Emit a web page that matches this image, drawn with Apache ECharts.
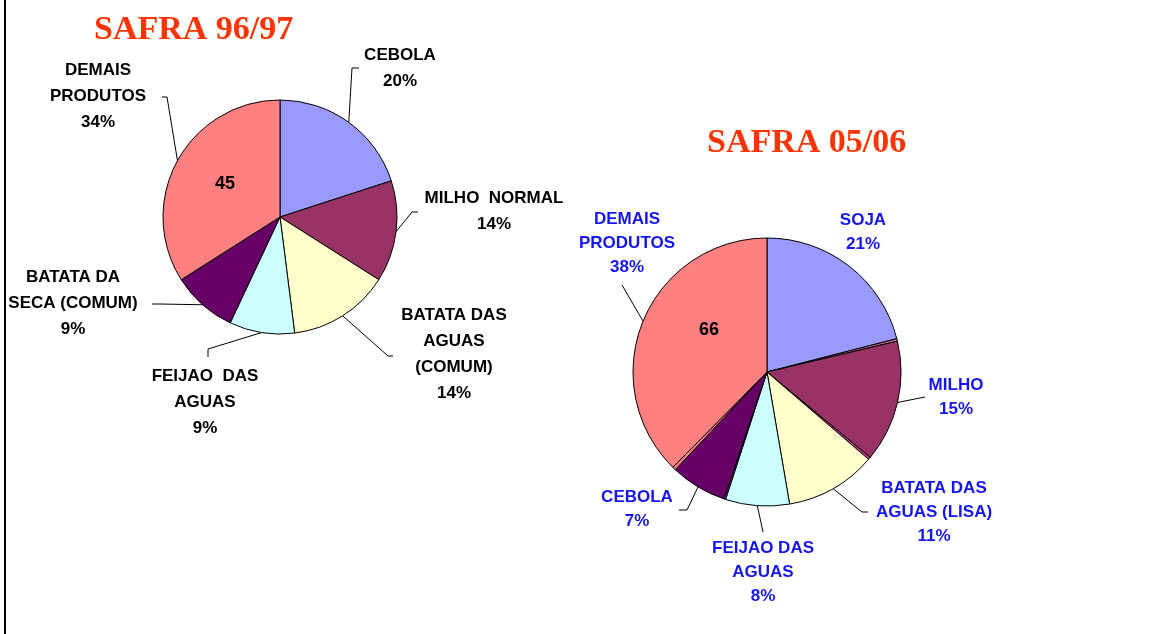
<!DOCTYPE html>
<html>
<head>
<meta charset="utf-8">
<script src="https://cdn.jsdelivr.net/npm/echarts@6/dist/echarts.min.js"></script>
<style>
  html, body { margin: 0; padding: 0; background: #fff; }
  #wrap { position: relative; width: 1176px; height: 634px; }
  #chart { width: 1176px; height: 634px; }
  #edge { position: absolute; left: 4px; top: 0; width: 2px; height: 634px; background: #000; }
</style>
</head>
<body>
<div id="wrap">
  <div id="chart"></div>
  <div id="edge"></div>
</div>
<script>
// SAFRA 96/97
const leftNames = ['CEBOLA', 'MILHO  NORMAL', 'BATATA DAS\nAGUAS\n(COMUM)', 'FEIJAO  DAS\nAGUAS', 'BATATA DA\nSECA (COMUM)', 'DEMAIS\nPRODUTOS'];
const leftValues = [20, 14, 14, 9, 9, 34];
const leftColors = ['#9999FF', '#993366', '#FFFFCC', '#CCFFFF', '#660066', '#FF8080'];

// SAFRA 05/06 (empty names = thin unlabeled slivers)
const rightNames = ['SOJA', '', 'MILHO', '', 'BATATA DAS\nAGUAS (LISA)', 'FEIJAO DAS\nAGUAS', '', 'CEBOLA', '', 'DEMAIS\nPRODUTOS'];
const rightValues = [21, 0.3, 14.7, 0.3, 11, 7.7, 0.2, 6.8, 0.4, 37.6];
const rightColors = ['#9999FF', '#CC6699', '#993366', '#CC3399', '#FFFFCC', '#CCFFFF', '#993399', '#660066', '#FF8080', '#FF8080'];

const titles = ['SAFRA 96/97', 'SAFRA 05/06'];
const innerNotes = ['45', '66'];

// label centres and leader-line bends (first line point comes from the pie)
const leftLabelPos = [
    { x: 400, y: 68, line: [[352, 68], [359, 68]] },
    { x: 494, y: 211, line: [[412, 212], [418, 212]] },
    { x: 454, y: 354, line: [[388, 356], [393, 356]] },
    { x: 205, y: 402, line: [[208, 349], [208, 357]] },
    { x: 73, y: 303, line: [[160, 304], [152, 304]] },
    { x: 98, y: 96, line: [[167, 97], [162, 97]] }
];
const rightLabelPos = {
    0: { x: 863, y: 232, line: null },
    2: { x: 956, y: 397, line: [[925, 397]] },
    4: { x: 934, y: 512, line: [[862, 512], [868, 512]] },
    5: { x: 763, y: 572, line: [[763, 532]] },
    7: { x: 637, y: 509, line: [[687, 510], [679, 510]] },
    9: { x: 627, y: 243, line: [[622, 285]] }
};

const myChart = echarts.init(document.getElementById('chart'));

function layoutFor(posTable) {
    return function (params) {
        const p = posTable[params.dataIndex];
        if (!p) return;
        const out = { x: p.x, y: p.y, align: 'center', verticalAlign: 'middle' };
        if (p.line && params.labelLinePoints && params.labelLinePoints.length) {
            out.labelLinePoints = [params.labelLinePoints[0]].concat(p.line);
        }
        return out;
    };
}

const fontFamily = '"Liberation Sans", Arial, sans-serif';
const titleFont = { fontFamily: '"Liberation Serif", "Times New Roman", serif', fontSize: 34, fontWeight: 'bold', color: '#FF3300' };

myChart.setOption({
    backgroundColor: '#fff',
    animation: false,
    title: [{
        text: titles[0],
        left: 94,
        top: 13,
        padding: 0,
        textStyle: titleFont
    }, {
        text: titles[1],
        left: 707,
        top: 126,
        padding: 0,
        textStyle: titleFont
    }],
    graphic: [{
        type: 'text', x: 225, y: 184, z: 100,
        style: { text: innerNotes[0], font: 'bold 18px ' + fontFamily, fill: '#000', align: 'center', verticalAlign: 'middle' }
    }, {
        type: 'text', x: 709, y: 330, z: 100,
        style: { text: innerNotes[1], font: 'bold 18px ' + fontFamily, fill: '#000', align: 'center', verticalAlign: 'middle' }
    }],
    series: [{
        type: 'pie',
        center: [280, 217],
        radius: 117,
        startAngle: 90,
        clockwise: true,
        percentPrecision: 0,
        avoidLabelOverlap: false,
        itemStyle: { borderColor: '#000', borderWidth: 1 },
        label: {
            formatter: '{b}\n{d}%',
            fontFamily: fontFamily,
            fontWeight: 'bold',
            fontSize: 17,
            lineHeight: 26,
            color: '#000',
            align: 'center'
        },
        labelLine: { show: true, length: 10, length2: 8, lineStyle: { color: '#000', width: 1 } },
        labelLayout: layoutFor(leftLabelPos),
        emphasis: { disabled: true },
        data: leftNames.map((n, i) => ({ name: n, value: leftValues[i], itemStyle: { color: leftColors[i] } }))
    }, {
        type: 'pie',
        center: [767, 372],
        radius: 134,
        startAngle: 90,
        clockwise: true,
        percentPrecision: 0,
        avoidLabelOverlap: false,
        itemStyle: { borderColor: '#000', borderWidth: 1 },
        label: {
            formatter: '{b}\n{d}%',
            fontFamily: fontFamily,
            fontWeight: 'bold',
            fontSize: 17,
            lineHeight: 24,
            color: '#1515F0',
            align: 'center'
        },
        labelLine: { show: true, length: 10, length2: 8, lineStyle: { color: '#000', width: 1 } },
        labelLayout: layoutFor(rightLabelPos),
        emphasis: { disabled: true },
        data: rightNames.map((n, i) => {
            const item = { name: n, value: rightValues[i], itemStyle: { color: rightColors[i] } };
            if (!n) {
                item.label = { show: false };
                item.labelLine = { show: false };
            } else if (i === 0) {
                item.labelLine = { show: false };
            }
            return item;
        })
    }]
});
</script>
</body>
</html>
